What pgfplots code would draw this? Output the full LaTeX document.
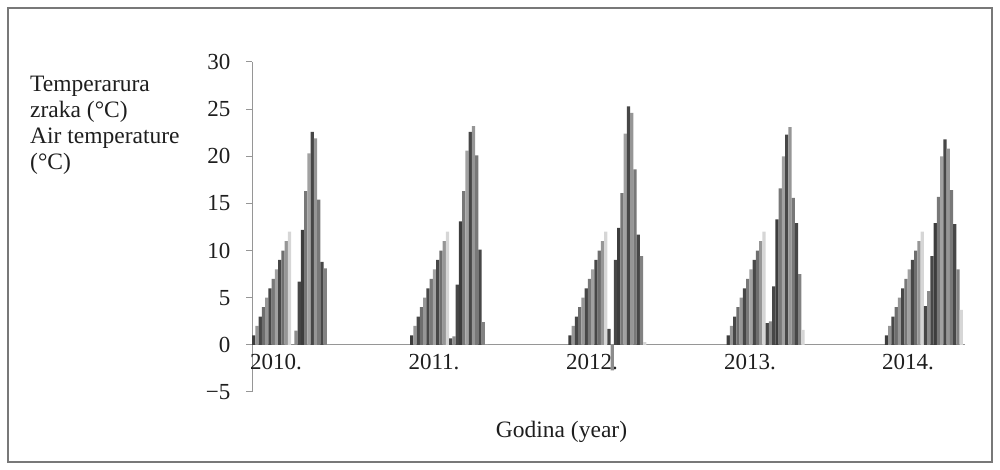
\documentclass[border=0pt]{standalone}
\usepackage{fontspec}
\setmainfont{Liberation Serif}
\usepackage{pgfplots}
\usepackage{pgfplotstable}
\pgfplotsset{compat=1.18}
\definecolor{axisgray}{RGB}{150,150,150}
\definecolor{framegray}{RGB}{120,120,120}
\definecolor{txt}{RGB}{30,30,30}

% start = left edge of each year's group (px units); r = month index series; t = monthly air temperature
\pgfplotstableread{
start r1 r2 r3 r4 r5 r6 r7 r8 r9 r10 r11 r12 t1 t2 t3 t4 t5 t6 t7 t8 t9 t10 t11 t12
0     1 2 3 4 5 6 7 8 9 10 11 12  0.0  1.5  6.7 12.2 16.3 20.3 22.6 21.9 15.4  8.8  8.1  0.0
158.2 1 2 3 4 5 6 7 8 9 10 11 12  0.7  0.9  6.4 13.1 16.3 20.6 22.6 23.2 20.1 10.1  2.4  0.0
316.4 1 2 3 4 5 6 7 8 9 10 11 12  1.7 -2.7  9.0 12.4 16.1 22.4 25.3 24.6 18.6 11.7  9.4  0.3
474.6 1 2 3 4 5 6 7 8 9 10 11 12  2.3  2.5  6.2 13.3 16.6 20.0 22.3 23.1 15.6 12.9  7.5  1.6
632.8 1 2 3 4 5 6 7 8 9 10 11 12  4.1  5.7  9.4 12.9 15.7 20.0 21.8 20.8 16.4 12.8  8.0  3.7
}\data

\pgfplotscreateplotcyclelist{grays}{
fill=black!76,draw=none\\
fill=black!41,draw=none\\
fill=black!72,draw=none\\
fill=black!57,draw=none\\
fill=black!41,draw=none\\
fill=black!72,draw=none\\
fill=black!53,draw=none\\
fill=black!37,draw=none\\
fill=black!72,draw=none\\
fill=black!57,draw=none\\
fill=black!41,draw=none\\
fill=black!16,draw=none\\
fill=black!72,draw=none\\
fill=black!45,draw=none\\
fill=black!72,draw=none\\
fill=black!76,draw=none\\
fill=black!53,draw=none\\
fill=black!37,draw=none\\
fill=black!72,draw=none\\
fill=black!41,draw=none\\
fill=black!53,draw=none\\
fill=black!72,draw=none\\
fill=black!49,draw=none\\
fill=black!16,draw=none\\
}

\begin{document}
\begin{tikzpicture}[x=1pt,y=1pt]
\useasboundingbox (0,0) rectangle (1000,470);
\draw[framegray, line width=1.2pt] (8,8) rectangle (992,462);
\begin{axis}[
  at={(252pt,78pt)}, anchor=south west,
  width=713pt, height=330pt, scale only axis,
  xmin=0, xmax=713, ymin=-5, ymax=30,
  axis x line*=middle, axis y line*=left,
  axis line style={axisgray, line width=1pt},
  ytick={-5,0,5,10,15,20,25,30},
  yticklabels={−5,0,5,10,15,20,25,30},
  xtick={24,182,340,498,656},
  xticklabels={2010.,2011.,2012.,2013.,2014.},
  xtick style={draw=none},
  ytick style={axisgray, line width=1pt},
  tick align=outside, major tick length=6pt,
  tick label style={txt, font=\fontsize{23}{27}\selectfont},
  yticklabel style={xshift=-12pt},
  cycle list name=grays,
  every axis plot/.append style={ybar, bar width=3.25, bar shift=0pt},
  clip=false,
]
\pgfplotsinvokeforeach{1,...,12}{
  \addplot table[x expr=\thisrow{start}+3.25*#1-1.625, y=r#1]{\data};
}
\pgfplotsinvokeforeach{1,...,12}{
  \addplot table[x expr=\thisrow{start}+3.25*(#1+12)-1.625, y=t#1]{\data};
}
\end{axis}
\node[anchor=north west, align=left, inner sep=0pt, text=txt, font=\fontsize{23.5}{26}\selectfont]
  at (30,394.5) {Temperarura\\zraka (°C)\\Air temperature\\(°C)};
\node[anchor=base, inner sep=0pt, text=txt, font=\fontsize{23.5}{26}\selectfont]
  at (561.5,32) {Godina (year)};
\end{tikzpicture}
\end{document}
